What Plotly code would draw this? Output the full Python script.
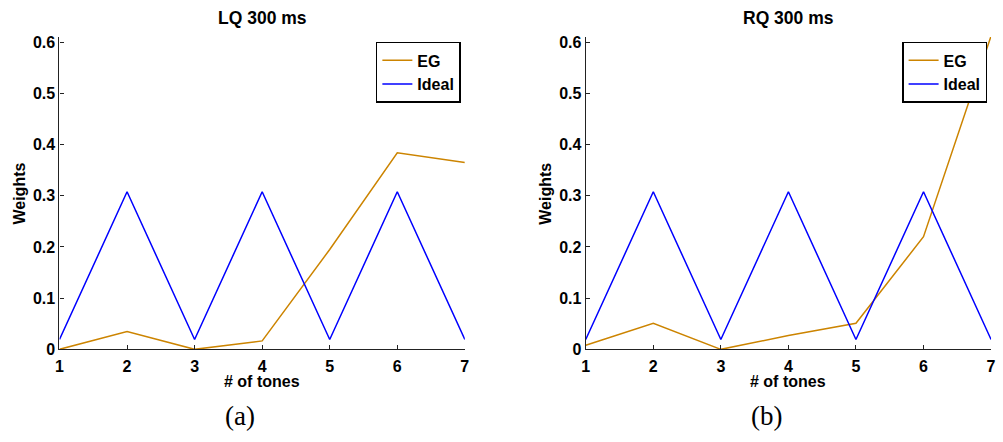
import plotly.graph_objects as go

tones = [1, 2, 3, 4, 5, 6, 7]
eg_lq = [0.0, 0.035, 0.0, 0.0165, 0.195, 0.384, 0.365]
eg_rq = [0.008, 0.051, 0.0, 0.027, 0.051, 0.22, 0.612]
ideal = [0.0192, 0.3077, 0.0192, 0.3077, 0.0192, 0.3077, 0.0192]
titles = ["LQ 300 ms", "RQ 300 ms"]
captions = ["(a)", "(b)"]
yticks = [0, 0.1, 0.2, 0.3, 0.4, 0.5, 0.6]
yticklabels = ["0", "0.1", "0.2", "0.3", "0.4", "0.5", "0.6"]

ORANGE = "#CC8400"
BLUE = "#0000FF"
W, H = 1003, 442
FONT = "Liberation Sans"
FS = 16

fig = go.Figure()

doms = [(56 / W, 465 / W), (587 / W, 996 / W)]
ydom = (86 / H, 407 / H)

for i, eg in enumerate([eg_lq, eg_rq]):
    xa = "x" if i == 0 else "x2"
    ya = "y" if i == 0 else "y2"
    lg = "legend" if i == 0 else "legend2"
    fig.add_trace(go.Scatter(x=tones, y=eg, mode="lines", name="EG",
                             line=dict(color=ORANGE, width=1.5),
                             xaxis=xa, yaxis=ya, legend=lg))
    fig.add_trace(go.Scatter(x=tones, y=ideal, mode="lines", name="Ideal",
                             line=dict(color=BLUE, width=1.5),
                             xaxis=xa, yaxis=ya, legend=lg))

axis_common = dict(showline=True, linecolor="#222", linewidth=1.3,
                   ticks="inside", ticklen=4, tickcolor="#222", showgrid=False,
                   zeroline=False, mirror=False,
                   tickfont=dict(family=FONT, size=FS, color="black", weight="bold"))

layout = dict(width=W, height=H, margin=dict(l=0, r=0, t=0, b=0),
              plot_bgcolor="white", paper_bgcolor="white", showlegend=True)

for i in range(2):
    sx = "" if i == 0 else "2"
    layout["xaxis" + sx] = dict(domain=list(doms[i]), range=[1, 7], tickvals=tones,
                                anchor="y" + sx, ticklabelstandoff=2, **axis_common)
    layout["yaxis" + sx] = dict(domain=list(ydom), range=[0, 0.61], tickvals=yticks,
                                ticktext=yticklabels, anchor="x" + sx,
                                ticklabelstandoff=0, **axis_common)

legend_common = dict(bgcolor="white", bordercolor="black", borderwidth=1.5,
                     font=dict(family=FONT, size=FS, color="black", weight="bold"),
                     xanchor="right", yanchor="top", tracegroupgap=0,
                     itemwidth=30)
layout["legend"] = dict(x=461 / W, y=1 - 40 / H, **legend_common)
layout["legend2"] = dict(x=992 / W, y=1 - 40 / H, **legend_common)

fig.update_layout(**layout)

ann = []
for i in range(2):
    cx = (doms[i][0] + doms[i][1]) / 2
    ann.append(dict(text=titles[i], x=cx, y=1 - 15 / H, xref="paper", yref="paper",
                    showarrow=False, xanchor="center", yanchor="middle",
                    font=dict(family=FONT, size=17.5, color="black", weight="bold")))
    ann.append(dict(text="# of tones", x=cx, y=1 - 389 / H, xref="paper", yref="paper",
                    showarrow=False, xanchor="center", yanchor="middle",
                    font=dict(family=FONT, size=FS, color="black", weight="bold")))
    ann.append(dict(text="Weights", x=(doms[i][0] * W - 40) / W, y=1 - 196 / H,
                    xref="paper", yref="paper", textangle=-90,
                    showarrow=False, xanchor="center", yanchor="middle",
                    font=dict(family=FONT, size=FS, color="black", weight="bold")))
    capx = [238, 769][i]
    ann.append(dict(text=captions[i], x=capx / W, y=1 - 425 / H, xref="paper", yref="paper",
                    showarrow=False, xanchor="center", yanchor="middle",
                    font=dict(family="Liberation Serif", size=27, color="black")))
fig.update_layout(annotations=ann)

fig.write_html("out.html")
